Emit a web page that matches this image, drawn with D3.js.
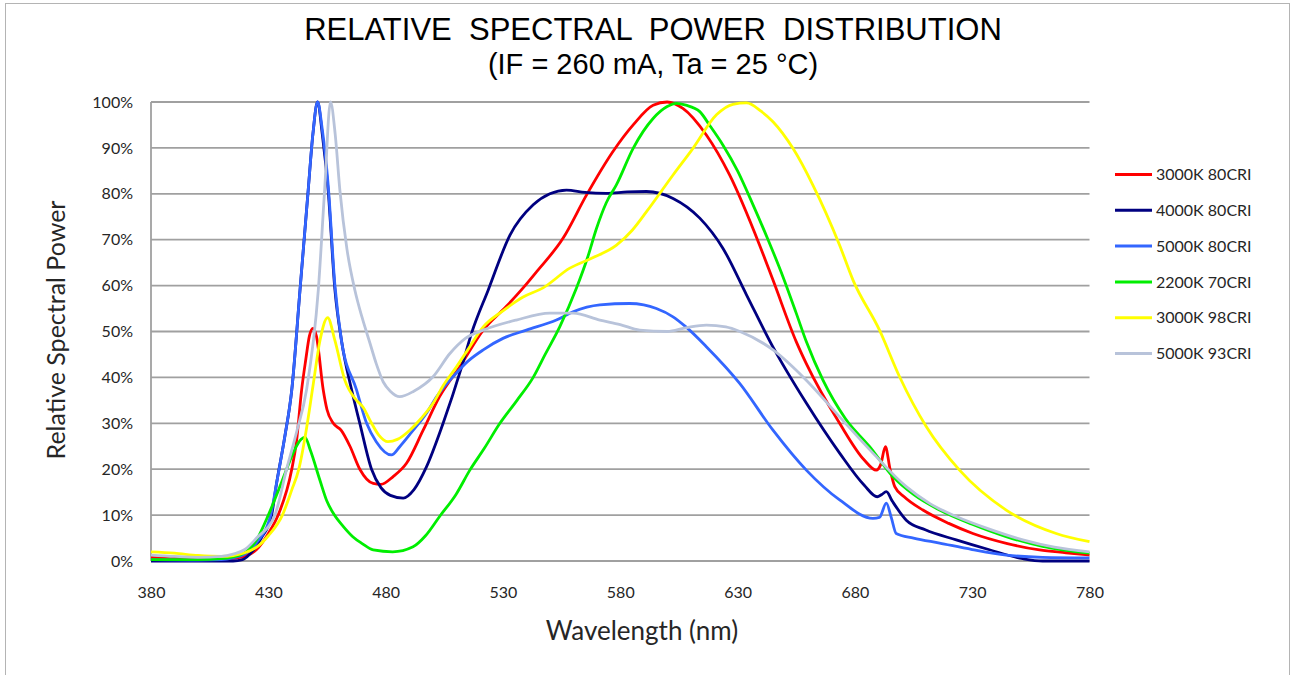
<!DOCTYPE html>
<html>
<head>
<meta charset="utf-8">
<script src="https://cdn.jsdelivr.net/npm/d3@7"></script>
<style>
  body { margin: 0; background: #fff; }
  svg text { white-space: pre; }
</style>
</head>
<body>
<script>
// Relative spectral power, [wavelength nm, percent]
var s3000k80 = [[380,0.8],[390,0.6],[400,0.4],[410,0.3],[415,0.6],[420,1],[425,2.5],[430,6],[434.2,10],[440,20],[442,26],[444.2,37.3],[446,44],[447.5,49],[449,50.7],[450.5,49],[453.4,37.3],[455,33],[457.7,30],[461,28.5],[464.8,25],[469,20],[474.7,16.9],[478,16.7],[483.2,18.4],[488.9,21.3],[496,28.5],[503,35.8],[511.6,42.3],[521.6,50.3],[531.5,55.5],[538.6,59.5],[544.3,63],[555.6,70.3],[565.6,79.7],[576.9,89.2],[585.5,95],[594,99.3],[600,100],[606.7,98.6],[616.7,92.8],[626.6,84.1],[639.4,68.8],[645.1,61.2],[655,47.8],[659.3,43],[673.5,30],[684,22],[689.1,19.8],[691,21],[693,24.9],[695,20],[697,16.2],[701,14],[709,11.1],[720,8.2],[730.3,6],[745,3.8],[758.7,2.4],[770,1.8],[780,1.3]];

var s4000k80 = [[380,0],[400,0],[415,0],[419,0.3],[423,2],[427,5],[431.4,10],[433.5,16.9],[437,27],[440,37.3],[443.5,59],[447,80.8],[449,93],[451,100],[453,93],[455.5,80.8],[458.4,59],[461.2,48],[465.5,37.3],[469,30],[474,20],[478,16],[482,14.3],[487.5,13.7],[492,15.5],[497.4,20.5],[504.5,30],[512.4,42.3],[516.6,49.6],[523.7,59],[533,71],[542.9,77.6],[550,80],[557.1,80.8],[565,80.3],[574.1,80.1],[583,80.4],[591.2,80.5],[602.5,79],[613.9,74.7],[623.8,68.1],[633.8,58],[645,46.7],[659.3,34.4],[673.5,23.5],[684,16.5],[689.5,14],[691.5,14.5],[693.4,15.1],[696,13],[701.9,8.9],[710,6.8],[723.2,4.6],[737,2.5],[751.6,0.5],[760,0],[780,0]];

var s5000k80 = [[380,0.3],[400,0.2],[410,0.3],[415,0.7],[420,1.5],[425,4],[431,10],[433.5,16.9],[437,27],[440,37.3],[443.5,59],[447,80.8],[449,93],[451,100],[453,94],[455.5,82],[458.4,60],[461.2,48],[467.6,37.3],[471.9,30],[476,26],[482.5,23.1],[486,24.9],[491,28],[497.4,32.2],[502,36],[508.8,40.2],[515,43.5],[521.6,46],[530,48.5],[540,50.3],[552.8,52.5],[559.9,54.3],[571.3,55.8],[584,56.1],[590,55.8],[595.4,55],[602.5,53.2],[608,51],[616.7,46.7],[630.9,38.7],[645.1,28.5],[659.3,19.8],[673.5,13.3],[687.7,9.3],[690.5,9.5],[693.4,12.6],[695.5,9.5],[697.6,6],[705,5],[716.1,3.9],[730,2.5],[744.5,1.3],[760,0.8],[780,0.7]];

var s2200k70 = [[380,0.3],[390,0.3],[400,0.3],[410,0.5],[418,1.3],[425,4.6],[430,10],[434,15],[437.8,20],[441,24],[444,26.5],[445.6,27],[448,24],[452,17.6],[455,13],[457.7,10.4],[462,7.5],[466,5.3],[470,3.8],[474.7,2.4],[483,2],[491.7,3.1],[497,5.5],[503,9.7],[510,14.5],[515.9,19.8],[522,24.5],[528.7,30],[536,35],[542.9,40],[548,45],[554.2,51],[561.3,59.4],[566,66],[569.9,72.5],[574,78],[578.4,82],[585.5,89.9],[594,96.4],[600,99],[604,99.7],[608,99.3],[613.9,97.9],[618,95],[623.8,90.6],[630,85],[636.6,77.6],[643,70],[649.3,62],[655,54],[659.3,47.8],[666.4,39.4],[676,31],[686.3,24.9],[696.2,18.4],[705,14.5],[716.1,11.1],[730,8],[744.5,5.3],[760,3.2],[780,1.7]];

var s3000k98 = [[380,2],[390,1.7],[400,1.2],[410,1],[415,1.2],[420,1.8],[425,3],[430,5.5],[436,10],[440,15.5],[443,20],[446,28],[449,38],[452,48],[455.3,53],[458.4,48],[462.6,39.4],[467.6,35],[470.4,33.5],[473.3,30.7],[477,27.5],[481,26],[485,26.5],[490.3,28.5],[495,31],[500.3,34.4],[504.5,38.2],[510.2,42.3],[515,46],[521.6,51],[530,54.5],[538.6,57.5],[547.1,59.5],[558.5,63.8],[568,66],[578.4,68.8],[585,72],[591.2,76.1],[602.5,84.1],[611,89.9],[621,97.2],[628,99.5],[633.8,99.8],[640,98],[645.1,95.7],[653.6,89.9],[662.1,81.9],[673.5,68.8],[679.2,61.2],[690.5,50.3],[699,40.2],[710.4,29.3],[724.6,19.8],[744.5,11.1],[765.8,6],[780,4.2]];

var s5000k93 = [[380,1.3],[390,1],[400,0.8],[410,1],[415,1.5],[420,2.5],[425,5],[432.8,10],[437.8,20],[442,28],[446.3,37.3],[451.3,59],[454,80.8],[456.5,100],[458.5,93],[460.5,80.8],[463.5,68],[466.9,59],[470,53],[473.3,47.5],[476,43],[479,39],[482,37],[486,35.8],[492,37],[500.3,40.2],[507.4,45.2],[514,48.5],[521.6,50.3],[535.7,52.5],[550,54],[559.9,54],[571.3,52.5],[580,51.5],[588.3,50.3],[600,50],[608,50.8],[616.7,51.4],[625,51],[631,50],[645.1,46],[659.3,39.4],[673.5,31.4],[687.7,23.5],[701.9,16.2],[712,12.5],[723.2,9.7],[737,7],[751.6,4.6],[765,3],[780,2]];

var seriesNames = ["3000K 80CRI", "4000K 80CRI", "5000K 80CRI", "2200K 70CRI", "3000K 98CRI", "5000K 93CRI"];
var seriesData = [s3000k80, s4000k80, s5000k80, s2200k70, s3000k98, s5000k93];
var seriesColors = ["#ff0000", "#000080", "#3366ff", "#00ee00", "#ffff00", "#b8c3da"];

var xTicks = [380, 430, 480, 530, 580, 630, 680, 730, 780];
var yTicks = [0, 10, 20, 30, 40, 50, 60, 70, 80, 90, 100];

var w = 1293, h = 675;
var plotLeft = 151, plotRight = 1089.5, plotTop = 102, plotBottom = 561;

var svg = d3.select("body").append("svg")
    .attr("width", w)
    .attr("height", h);

// outer frame
svg.append("rect")
    .attr("x", 5.5).attr("y", 3.5)
    .attr("width", 1284).attr("height", 700)
    .attr("fill", "none")
    .attr("stroke", "#b4b4b4");

var xScale = d3.scaleLinear().domain([380, 780]).range([plotLeft, plotRight]);
var yScale = d3.scaleLinear().domain([0, 100]).range([plotBottom, plotTop]);

// gridlines
svg.append("g")
    .selectAll("line")
    .data(yTicks)
    .enter()
    .append("line")
    .attr("x1", plotLeft).attr("x2", plotRight)
    .attr("y1", function(d) { return yScale(d); })
    .attr("y2", function(d) { return yScale(d); })
    .attr("stroke", "#a0a0a0")
    .attr("stroke-width", 1.8);

// left axis line
svg.append("line")
    .attr("x1", plotLeft).attr("x2", plotLeft)
    .attr("y1", plotTop).attr("y2", plotBottom)
    .attr("stroke", "#a0a0a0")
    .attr("stroke-width", 1.8);

// Axis
var yAxis = d3.axisLeft(yScale)
    .tickValues(yTicks)
    .tickSize(0)
    .tickPadding(18)
    .tickFormat(function(d) { return d + "%"; });

var xAxis = d3.axisBottom(xScale)
    .tickValues(xTicks)
    .tickSize(0)
    .tickPadding(26);

var gy = svg.append("g")
    .attr("transform", "translate(" + plotLeft + ",0)")
    .call(yAxis);
var gx = svg.append("g")
    .attr("transform", "translate(0," + plotBottom + ")")
    .call(xAxis);

[gx, gy].forEach(function(g) {
    g.select(".domain").remove();
    g.selectAll("text")
        .attr("font-family", "Lato, sans-serif")
        .attr("font-size", 16)
        .attr("fill", "#262626");
});

// series
var line = d3.line()
    .x(function(d) { return xScale(d[0]); })
    .y(function(d) { return yScale(d[1]); })
    .curve(d3.curveMonotoneX);

svg.append("g")
    .selectAll("path")
    .data(seriesData)
    .enter()
    .append("path")
    .attr("d", line)
    .attr("fill", "none")
    .attr("stroke", function(d, i) { return seriesColors[i]; })
    .attr("stroke-width", 2.8)
    .attr("stroke-linejoin", "round");

// legend
var legend = svg.append("g")
    .selectAll("g")
    .data(seriesNames)
    .enter()
    .append("g")
    .attr("transform", function(d, i) { return "translate(1115," + (174.5 + i * 35.8) + ")"; });

legend.append("line")
    .attr("x1", 0).attr("x2", 37)
    .attr("stroke", function(d, i) { return seriesColors[i]; })
    .attr("stroke-width", 3);

legend.append("text")
    .attr("x", 41)
    .attr("dy", "0.35em")
    .attr("font-family", "Lato, sans-serif")
    .attr("font-size", 16)
    .attr("fill", "#262626")
    .text(function(d) { return d; });

// titles
svg.append("text")
    .attr("x", 653).attr("y", 40)
    .attr("text-anchor", "middle")
    .attr("font-family", "'Liberation Sans', Arial, sans-serif")
    .attr("font-size", 31)
    .attr("fill", "#000")
    .text("RELATIVE  SPECTRAL  POWER  DISTRIBUTION");

svg.append("text")
    .attr("x", 653).attr("y", 74)
    .attr("text-anchor", "middle")
    .attr("font-family", "'Liberation Sans', Arial, sans-serif")
    .attr("font-size", 29)
    .attr("fill", "#000")
    .text("(IF = 260 mA, Ta = 25 \u00B0C)");

svg.append("text")
    .attr("transform", "translate(65,330) rotate(-90)")
    .attr("text-anchor", "middle")
    .attr("font-family", "Lato, sans-serif")
    .attr("font-size", 25)
    .attr("fill", "#262626")
    .text("Relative Spectral Power");

svg.append("text")
    .attr("x", 642).attr("y", 640)
    .attr("text-anchor", "middle")
    .attr("font-family", "Lato, sans-serif")
    .attr("font-size", 26)
    .attr("fill", "#262626")
    .text("Wavelength (nm)");
</script>
</body>
</html>
